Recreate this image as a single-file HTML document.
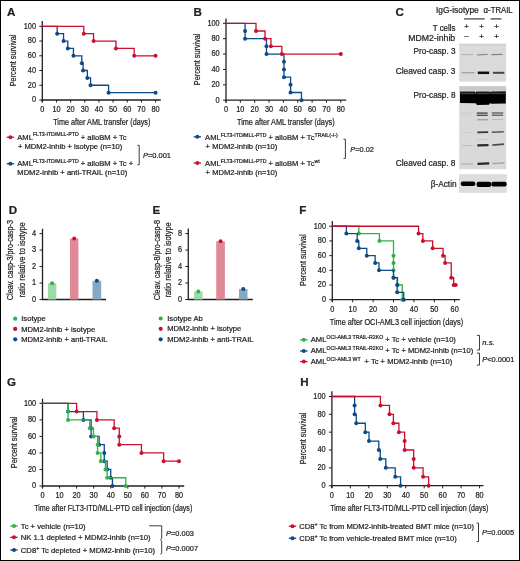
<!DOCTYPE html><html><head><meta charset="utf-8"><style>html,body{margin:0;padding:0;background:#fff;width:520px;height:561px;overflow:hidden;}svg{display:block;will-change:transform;}text{font-family:"Liberation Sans",sans-serif;fill:#231f20;stroke:#231f20;stroke-width:0.24px;}</style></head><body>
<svg width="520" height="561" viewBox="0 0 520 561">
<rect x="0" y="0" width="520" height="561" fill="#fff"/>
<text x="7" y="15.5" font-size="11.6" font-weight="bold" fill="#000">A</text>
<line x1="42.3" y1="20.9" x2="42.3" y2="102.2" stroke="#231f20" stroke-width="1.3"/>
<line x1="41.7" y1="100" x2="160.8" y2="100" stroke="#231f20" stroke-width="1.3"/>
<line x1="39.3" y1="100" x2="42.3" y2="100" stroke="#231f20" stroke-width="1"/>
<text x="36" y="102.35" font-size="8.6" text-anchor="end" textLength="4.09" lengthAdjust="spacingAndGlyphs">0</text>
<line x1="39.3" y1="85.26" x2="42.3" y2="85.26" stroke="#231f20" stroke-width="1"/>
<text x="36" y="87.61" font-size="8.6" text-anchor="end" textLength="8.17" lengthAdjust="spacingAndGlyphs">20</text>
<line x1="39.3" y1="70.52" x2="42.3" y2="70.52" stroke="#231f20" stroke-width="1"/>
<text x="36" y="72.87" font-size="8.6" text-anchor="end" textLength="8.17" lengthAdjust="spacingAndGlyphs">40</text>
<line x1="39.3" y1="55.78" x2="42.3" y2="55.78" stroke="#231f20" stroke-width="1"/>
<text x="36" y="58.13" font-size="8.6" text-anchor="end" textLength="8.17" lengthAdjust="spacingAndGlyphs">60</text>
<line x1="39.3" y1="41.04" x2="42.3" y2="41.04" stroke="#231f20" stroke-width="1"/>
<text x="36" y="43.39" font-size="8.6" text-anchor="end" textLength="8.17" lengthAdjust="spacingAndGlyphs">80</text>
<line x1="39.3" y1="26.3" x2="42.3" y2="26.3" stroke="#231f20" stroke-width="1"/>
<text x="36" y="28.65" font-size="8.6" text-anchor="end" textLength="12.26" lengthAdjust="spacingAndGlyphs">100</text>
<line x1="42.3" y1="100" x2="42.3" y2="102.6" stroke="#231f20" stroke-width="1"/>
<text x="42.3" y="111.9" font-size="8.6" text-anchor="middle" textLength="4.09" lengthAdjust="spacingAndGlyphs">0</text>
<line x1="56.46" y1="100" x2="56.46" y2="102.6" stroke="#231f20" stroke-width="1"/>
<text x="56.46" y="111.9" font-size="8.6" text-anchor="middle" textLength="8.17" lengthAdjust="spacingAndGlyphs">10</text>
<line x1="70.62" y1="100" x2="70.62" y2="102.6" stroke="#231f20" stroke-width="1"/>
<text x="70.62" y="111.9" font-size="8.6" text-anchor="middle" textLength="8.17" lengthAdjust="spacingAndGlyphs">20</text>
<line x1="84.78" y1="100" x2="84.78" y2="102.6" stroke="#231f20" stroke-width="1"/>
<text x="84.78" y="111.9" font-size="8.6" text-anchor="middle" textLength="8.17" lengthAdjust="spacingAndGlyphs">30</text>
<line x1="98.94" y1="100" x2="98.94" y2="102.6" stroke="#231f20" stroke-width="1"/>
<text x="98.94" y="111.9" font-size="8.6" text-anchor="middle" textLength="8.17" lengthAdjust="spacingAndGlyphs">40</text>
<line x1="113.1" y1="100" x2="113.1" y2="102.6" stroke="#231f20" stroke-width="1"/>
<text x="113.1" y="111.9" font-size="8.6" text-anchor="middle" textLength="8.17" lengthAdjust="spacingAndGlyphs">50</text>
<line x1="127.26" y1="100" x2="127.26" y2="102.6" stroke="#231f20" stroke-width="1"/>
<text x="127.26" y="111.9" font-size="8.6" text-anchor="middle" textLength="8.17" lengthAdjust="spacingAndGlyphs">60</text>
<line x1="141.42" y1="100" x2="141.42" y2="102.6" stroke="#231f20" stroke-width="1"/>
<text x="141.42" y="111.9" font-size="8.6" text-anchor="middle" textLength="8.17" lengthAdjust="spacingAndGlyphs">70</text>
<line x1="155.58" y1="100" x2="155.58" y2="102.6" stroke="#231f20" stroke-width="1"/>
<text x="155.58" y="111.9" font-size="8.6" text-anchor="middle" textLength="8.17" lengthAdjust="spacingAndGlyphs">80</text>
<text x="16.4" y="60.45" font-size="8.4" text-anchor="middle" textLength="51.6" lengthAdjust="spacingAndGlyphs" transform="rotate(-90 16.4 60.45)">Percent survival</text>
<path d="M42.3 26.3 H57.17 V33.67 H63.54 V41.04 H67.79 V48.41 H73.45 V55.78 H81.81 V63.15 H83.08 V70.52 H87.33 V77.89 H90.59 V85.26 H108.57 V92.63 H155.58" fill="none" stroke="#0b4a86" stroke-width="1.3"/>
<circle cx="57.17" cy="33.67" r="2" fill="#0b4a86"/>
<circle cx="63.54" cy="41.04" r="2" fill="#0b4a86"/>
<circle cx="67.79" cy="48.41" r="2" fill="#0b4a86"/>
<circle cx="73.45" cy="55.78" r="2" fill="#0b4a86"/>
<circle cx="81.81" cy="63.15" r="2" fill="#0b4a86"/>
<circle cx="83.08" cy="70.52" r="2" fill="#0b4a86"/>
<circle cx="87.33" cy="77.89" r="2" fill="#0b4a86"/>
<circle cx="90.59" cy="85.26" r="2" fill="#0b4a86"/>
<circle cx="108.57" cy="92.63" r="2" fill="#0b4a86"/>
<circle cx="155.58" cy="92.63" r="2" fill="#0b4a86"/>
<path d="M42.3 26.3 H83.79 V33.67 H93.56 V41.04 H115.93 V48.41 H134.2 V55.78 H155.58" fill="none" stroke="#c8102e" stroke-width="1.3"/>
<circle cx="83.79" cy="33.67" r="2" fill="#c8102e"/>
<circle cx="93.56" cy="41.04" r="2" fill="#c8102e"/>
<circle cx="115.93" cy="48.41" r="2" fill="#c8102e"/>
<circle cx="134.2" cy="55.78" r="2" fill="#c8102e"/>
<circle cx="155.58" cy="55.78" r="2" fill="#c8102e"/>
<text x="53.2" y="124.6" font-size="9.2" textLength="97.2" lengthAdjust="spacingAndGlyphs">Time after AML transfer (days)</text>
<line x1="6.7" y1="137.2" x2="14.1" y2="137.2" stroke="#c8102e" stroke-width="1.3"/>
<circle cx="10.4" cy="137.2" r="2" fill="#c8102e"/>
<text transform="translate(17.3 139.7) scale(0.95 1)" font-size="8"><tspan>AML</tspan><tspan font-size="5.5" dy="-3.3">FLT3-ITD/MLL-PTD</tspan><tspan dy="3.3"> + alloBM + Tc</tspan></text>
<text transform="translate(17.9 148.9) scale(0.95 1)" font-size="8"><tspan>+ MDM2-inhib + isotype (n=10)</tspan></text>
<line x1="6.7" y1="163.7" x2="14.1" y2="163.7" stroke="#0b4a86" stroke-width="1.3"/>
<circle cx="10.4" cy="163.7" r="2" fill="#0b4a86"/>
<text transform="translate(17.3 166) scale(0.95 1)" font-size="8"><tspan>AML</tspan><tspan font-size="5.5" dy="-3.3">FLT3-ITD/MLL-PTD</tspan><tspan dy="3.3"> + alloBM + Tc +</tspan></text>
<text transform="translate(17.3 175.2) scale(0.95 1)" font-size="8"><tspan>MDM2-inhib + anti-TRAIL (n=10)</tspan></text>
<path d="M137.4 145.3 H139.2 V164.7 H137.4" fill="none" stroke="#333" stroke-width="0.95"/>
<text transform="translate(143 157.6) scale(0.93 1)" font-size="8"><tspan font-style="italic">P</tspan><tspan>=0.001</tspan></text>
<text x="193.55" y="15.5" font-size="11.6" font-weight="bold" fill="#000">B</text>
<line x1="226" y1="18.5" x2="226" y2="102.4" stroke="#231f20" stroke-width="1.3"/>
<line x1="225.4" y1="100.2" x2="346.2" y2="100.2" stroke="#231f20" stroke-width="1.3"/>
<line x1="223" y1="100.2" x2="226" y2="100.2" stroke="#231f20" stroke-width="1"/>
<text x="219.7" y="102.55" font-size="8.6" text-anchor="end" textLength="4.09" lengthAdjust="spacingAndGlyphs">0</text>
<line x1="223" y1="84.82" x2="226" y2="84.82" stroke="#231f20" stroke-width="1"/>
<text x="219.7" y="87.17" font-size="8.6" text-anchor="end" textLength="8.17" lengthAdjust="spacingAndGlyphs">20</text>
<line x1="223" y1="69.44" x2="226" y2="69.44" stroke="#231f20" stroke-width="1"/>
<text x="219.7" y="71.79" font-size="8.6" text-anchor="end" textLength="8.17" lengthAdjust="spacingAndGlyphs">40</text>
<line x1="223" y1="54.06" x2="226" y2="54.06" stroke="#231f20" stroke-width="1"/>
<text x="219.7" y="56.41" font-size="8.6" text-anchor="end" textLength="8.17" lengthAdjust="spacingAndGlyphs">60</text>
<line x1="223" y1="38.68" x2="226" y2="38.68" stroke="#231f20" stroke-width="1"/>
<text x="219.7" y="41.03" font-size="8.6" text-anchor="end" textLength="8.17" lengthAdjust="spacingAndGlyphs">80</text>
<line x1="223" y1="23.3" x2="226" y2="23.3" stroke="#231f20" stroke-width="1"/>
<text x="219.7" y="25.65" font-size="8.6" text-anchor="end" textLength="12.26" lengthAdjust="spacingAndGlyphs">100</text>
<line x1="226" y1="100.2" x2="226" y2="102.8" stroke="#231f20" stroke-width="1"/>
<text x="226" y="112.1" font-size="8.6" text-anchor="middle" textLength="4.09" lengthAdjust="spacingAndGlyphs">0</text>
<line x1="240.35" y1="100.2" x2="240.35" y2="102.8" stroke="#231f20" stroke-width="1"/>
<text x="240.35" y="112.1" font-size="8.6" text-anchor="middle" textLength="8.17" lengthAdjust="spacingAndGlyphs">10</text>
<line x1="254.7" y1="100.2" x2="254.7" y2="102.8" stroke="#231f20" stroke-width="1"/>
<text x="254.7" y="112.1" font-size="8.6" text-anchor="middle" textLength="8.17" lengthAdjust="spacingAndGlyphs">20</text>
<line x1="269.05" y1="100.2" x2="269.05" y2="102.8" stroke="#231f20" stroke-width="1"/>
<text x="269.05" y="112.1" font-size="8.6" text-anchor="middle" textLength="8.17" lengthAdjust="spacingAndGlyphs">30</text>
<line x1="283.4" y1="100.2" x2="283.4" y2="102.8" stroke="#231f20" stroke-width="1"/>
<text x="283.4" y="112.1" font-size="8.6" text-anchor="middle" textLength="8.17" lengthAdjust="spacingAndGlyphs">40</text>
<line x1="297.75" y1="100.2" x2="297.75" y2="102.8" stroke="#231f20" stroke-width="1"/>
<text x="297.75" y="112.1" font-size="8.6" text-anchor="middle" textLength="8.17" lengthAdjust="spacingAndGlyphs">50</text>
<line x1="312.1" y1="100.2" x2="312.1" y2="102.8" stroke="#231f20" stroke-width="1"/>
<text x="312.1" y="112.1" font-size="8.6" text-anchor="middle" textLength="8.17" lengthAdjust="spacingAndGlyphs">60</text>
<line x1="326.45" y1="100.2" x2="326.45" y2="102.8" stroke="#231f20" stroke-width="1"/>
<text x="326.45" y="112.1" font-size="8.6" text-anchor="middle" textLength="8.17" lengthAdjust="spacingAndGlyphs">70</text>
<line x1="340.8" y1="100.2" x2="340.8" y2="102.8" stroke="#231f20" stroke-width="1"/>
<text x="340.8" y="112.1" font-size="8.6" text-anchor="middle" textLength="8.17" lengthAdjust="spacingAndGlyphs">80</text>
<text x="200.1" y="59.35" font-size="8.4" text-anchor="middle" textLength="51.6" lengthAdjust="spacingAndGlyphs" transform="rotate(-90 200.1 59.35)">Percent survival</text>
<path d="M226 23.3 H245.09 V30.99 V38.68 H266.47 V46.37 V54.06 H283.97 V61.75 V69.44 V77.13 H290.57 V84.82 V92.51 H301.48 V100.2" fill="none" stroke="#0b4a86" stroke-width="1.3"/>
<circle cx="245.09" cy="30.99" r="2" fill="#0b4a86"/>
<circle cx="245.09" cy="38.68" r="2" fill="#0b4a86"/>
<circle cx="266.47" cy="46.37" r="2" fill="#0b4a86"/>
<circle cx="266.47" cy="54.06" r="2" fill="#0b4a86"/>
<circle cx="283.97" cy="61.75" r="2" fill="#0b4a86"/>
<circle cx="283.97" cy="69.44" r="2" fill="#0b4a86"/>
<circle cx="283.97" cy="77.13" r="2" fill="#0b4a86"/>
<circle cx="290.57" cy="84.82" r="2" fill="#0b4a86"/>
<circle cx="290.57" cy="92.51" r="2" fill="#0b4a86"/>
<circle cx="301.48" cy="100.2" r="2" fill="#0b4a86"/>
<path d="M226 23.3 H255.99 V30.99 H265.03 V38.68 H270.92 V46.37 H281.82 V54.06 H340.8" fill="none" stroke="#c8102e" stroke-width="1.3"/>
<circle cx="255.99" cy="30.99" r="2" fill="#c8102e"/>
<circle cx="265.03" cy="38.68" r="2" fill="#c8102e"/>
<circle cx="270.92" cy="46.37" r="2" fill="#c8102e"/>
<circle cx="281.82" cy="54.06" r="2" fill="#c8102e"/>
<circle cx="340.8" cy="54.06" r="2" fill="#c8102e"/>
<text x="237" y="124.6" font-size="9.2" textLength="97.6" lengthAdjust="spacingAndGlyphs">Time after AML transfer (days)</text>
<line x1="193.7" y1="136.8" x2="201.1" y2="136.8" stroke="#0b4a86" stroke-width="1.3"/>
<circle cx="197.4" cy="136.8" r="2" fill="#0b4a86"/>
<text transform="translate(205.1 139.9) scale(0.95 1)" font-size="8"><tspan>AML</tspan><tspan font-size="5.5" dy="-3.3">FLT3-ITD/MLL-PTD</tspan><tspan dy="3.3"> + alloBM + Tc</tspan><tspan font-size="5.5" dy="-3.3">TRAIL(-/-)</tspan></text>
<text transform="translate(205.6 148.6) scale(0.95 1)" font-size="8"><tspan>+ MDM2-inhib (n=10)</tspan></text>
<line x1="193.7" y1="163" x2="201.1" y2="163" stroke="#c8102e" stroke-width="1.3"/>
<circle cx="197.4" cy="163" r="2" fill="#c8102e"/>
<text transform="translate(205.1 166.2) scale(0.95 1)" font-size="8"><tspan>AML</tspan><tspan font-size="5.5" dy="-3.3">FLT3-ITD/MLL-PTD</tspan><tspan dy="3.3"> + alloBM + Tc</tspan><tspan font-size="5.5" dy="-3.3">wt</tspan></text>
<text transform="translate(205.6 175) scale(0.95 1)" font-size="8"><tspan>+ MDM2-inhib (n=10)</tspan></text>
<path d="M343.5 139.3 H345.4 V158.4 H343.5" fill="none" stroke="#333" stroke-width="0.95"/>
<text transform="translate(350.2 151.5) scale(0.93 1)" font-size="8"><tspan font-style="italic">P</tspan><tspan>=0.02</tspan></text>
<text x="395.5" y="15.8" font-size="11.6" font-weight="bold" fill="#000">C</text>
<text x="436" y="13" font-size="8.6" textLength="42.7" lengthAdjust="spacingAndGlyphs">IgG-isotype</text>
<text x="483.6" y="12.6" font-size="8.2" textLength="29" lengthAdjust="spacingAndGlyphs">α-TRAIL</text>
<line x1="464.1" y1="18.9" x2="484.7" y2="18.9" stroke="#3a3a3a" stroke-width="1.2"/>
<line x1="490.6" y1="18.9" x2="501.5" y2="18.9" stroke="#3a3a3a" stroke-width="1.2"/>
<text x="455.4" y="30.6" font-size="8.4" text-anchor="end" textLength="22.6" lengthAdjust="spacingAndGlyphs">T cells</text>
<text x="455.2" y="41.1" font-size="8.6" text-anchor="end" textLength="47" lengthAdjust="spacingAndGlyphs">MDM2-inhib</text>
<text x="466.6" y="28.9" font-size="8" text-anchor="middle">+</text>
<text x="481.6" y="28.9" font-size="8" text-anchor="middle">+</text>
<text x="496.7" y="28.9" font-size="8" text-anchor="middle">+</text>
<text x="466.6" y="38.2" font-size="8" text-anchor="middle">–</text>
<text x="481.6" y="38.5" font-size="8" text-anchor="middle">+</text>
<text x="496.7" y="38.5" font-size="8" text-anchor="middle">+</text>
<text x="455.5" y="53.6" font-size="8.8" text-anchor="end" textLength="41.9" lengthAdjust="spacingAndGlyphs">Pro-casp. 3</text>
<text x="455.5" y="73.5" font-size="8.8" text-anchor="end" textLength="59.8" lengthAdjust="spacingAndGlyphs">Cleaved casp. 3</text>
<text x="455.5" y="98.4" font-size="8.8" text-anchor="end" textLength="41.9" lengthAdjust="spacingAndGlyphs">Pro-casp. 8</text>
<text x="455.5" y="165.9" font-size="8.8" text-anchor="end" textLength="59.8" lengthAdjust="spacingAndGlyphs">Cleaved casp. 8</text>
<text x="456.6" y="187.4" font-size="8.8" text-anchor="end" textLength="25.9" lengthAdjust="spacingAndGlyphs">β-Actin</text>
<text x="8.8" y="214.1" font-size="11.6" font-weight="bold" fill="#000">D</text>
<line x1="42.5" y1="228.7" x2="42.5" y2="300.1" stroke="#231f20" stroke-width="1.3"/>
<line x1="41.9" y1="299.5" x2="106" y2="299.5" stroke="#231f20" stroke-width="1.3"/>
<line x1="39.5" y1="299.5" x2="42.5" y2="299.5" stroke="#231f20" stroke-width="1"/>
<text x="36.2" y="301.85" font-size="8.6" text-anchor="end" textLength="4.09" lengthAdjust="spacingAndGlyphs">0</text>
<line x1="39.5" y1="283.02" x2="42.5" y2="283.02" stroke="#231f20" stroke-width="1"/>
<text x="36.2" y="285.37" font-size="8.6" text-anchor="end" textLength="4.09" lengthAdjust="spacingAndGlyphs">1</text>
<line x1="39.5" y1="266.54" x2="42.5" y2="266.54" stroke="#231f20" stroke-width="1"/>
<text x="36.2" y="268.89" font-size="8.6" text-anchor="end" textLength="4.09" lengthAdjust="spacingAndGlyphs">2</text>
<line x1="39.5" y1="250.06" x2="42.5" y2="250.06" stroke="#231f20" stroke-width="1"/>
<text x="36.2" y="252.41" font-size="8.6" text-anchor="end" textLength="4.09" lengthAdjust="spacingAndGlyphs">3</text>
<line x1="39.5" y1="233.58" x2="42.5" y2="233.58" stroke="#231f20" stroke-width="1"/>
<text x="36.2" y="235.93" font-size="8.6" text-anchor="end" textLength="4.09" lengthAdjust="spacingAndGlyphs">4</text>
<rect x="47.9" y="283.3" width="8.4" height="16.2" fill="#9cdaa6"/>
<circle cx="52.1" cy="283.3" r="2" fill="#2fb145"/>
<rect x="70" y="238.4" width="8.4" height="61.1" fill="#e08a98"/>
<circle cx="74.2" cy="238.4" r="2" fill="#c8102e"/>
<rect x="92.5" y="280.8" width="8.7" height="18.7" fill="#88a8c2"/>
<circle cx="96.85" cy="280.8" r="2" fill="#0b4a86"/>
<text x="13.3" y="260.1" font-size="8.8" text-anchor="middle" textLength="80.2" lengthAdjust="spacingAndGlyphs" transform="rotate(-90 13.3 260.1)">Cleav. casp-3/pro-casp-3</text>
<text x="24.6" y="259.85" font-size="8.8" text-anchor="middle" textLength="75.3" lengthAdjust="spacingAndGlyphs" transform="rotate(-90 24.6 259.85)">ratio relative to isotype</text>
<circle cx="15.2" cy="318.7" r="2.1" fill="#2fb145"/>
<text transform="translate(21.2 321.3) scale(0.955 1)" font-size="8"><tspan>Isotype</tspan></text>
<circle cx="15.2" cy="328.9" r="2.1" fill="#c8102e"/>
<text transform="translate(21.2 331.5) scale(0.955 1)" font-size="8"><tspan>MDM2-inhib + isotype</tspan></text>
<circle cx="15.2" cy="339.3" r="2.1" fill="#0b4a86"/>
<text transform="translate(21.2 341.9) scale(0.955 1)" font-size="8"><tspan>MDM2-inhib + anti-TRAIL</tspan></text>
<text x="152.5" y="214.2" font-size="11.6" font-weight="bold" fill="#000">E</text>
<line x1="188.3" y1="228.6" x2="188.3" y2="300.1" stroke="#231f20" stroke-width="1.3"/>
<line x1="187.7" y1="299.5" x2="252.8" y2="299.5" stroke="#231f20" stroke-width="1.3"/>
<line x1="185.3" y1="299.5" x2="188.3" y2="299.5" stroke="#231f20" stroke-width="1"/>
<text x="182" y="301.85" font-size="8.6" text-anchor="end" textLength="4.09" lengthAdjust="spacingAndGlyphs">0</text>
<line x1="185.3" y1="283.02" x2="188.3" y2="283.02" stroke="#231f20" stroke-width="1"/>
<text x="182" y="285.37" font-size="8.6" text-anchor="end" textLength="4.09" lengthAdjust="spacingAndGlyphs">2</text>
<line x1="185.3" y1="266.54" x2="188.3" y2="266.54" stroke="#231f20" stroke-width="1"/>
<text x="182" y="268.89" font-size="8.6" text-anchor="end" textLength="4.09" lengthAdjust="spacingAndGlyphs">4</text>
<line x1="185.3" y1="250.06" x2="188.3" y2="250.06" stroke="#231f20" stroke-width="1"/>
<text x="182" y="252.41" font-size="8.6" text-anchor="end" textLength="4.09" lengthAdjust="spacingAndGlyphs">6</text>
<line x1="185.3" y1="233.58" x2="188.3" y2="233.58" stroke="#231f20" stroke-width="1"/>
<text x="182" y="235.93" font-size="8.6" text-anchor="end" textLength="4.09" lengthAdjust="spacingAndGlyphs">8</text>
<rect x="194" y="291.6" width="8.5" height="7.9" fill="#9cdaa6"/>
<circle cx="198.25" cy="291.6" r="2" fill="#2fb145"/>
<rect x="216.2" y="241.3" width="8.7" height="58.2" fill="#e08a98"/>
<circle cx="220.55" cy="241.3" r="2" fill="#c8102e"/>
<rect x="239" y="289" width="8.5" height="10.5" fill="#88a8c2"/>
<circle cx="243.25" cy="289" r="2" fill="#0b4a86"/>
<text x="159.8" y="260.1" font-size="8.8" text-anchor="middle" textLength="80.2" lengthAdjust="spacingAndGlyphs" transform="rotate(-90 159.8 260.1)">Cleav. casp-8/pro-casp-8</text>
<text x="171.2" y="259.85" font-size="8.8" text-anchor="middle" textLength="75.3" lengthAdjust="spacingAndGlyphs" transform="rotate(-90 171.2 259.85)">ratio relative to isotype</text>
<circle cx="160.7" cy="318.5" r="2.1" fill="#2fb145"/>
<text transform="translate(167.2 321.1) scale(0.955 1)" font-size="8"><tspan>Isotype Ab</tspan></text>
<circle cx="160.7" cy="328.8" r="2.1" fill="#c8102e"/>
<text transform="translate(167.2 331.4) scale(0.955 1)" font-size="8"><tspan>MDM2-inhib + isotype</tspan></text>
<circle cx="160.7" cy="339.3" r="2.1" fill="#0b4a86"/>
<text transform="translate(167.2 341.9) scale(0.955 1)" font-size="8"><tspan>MDM2-inhib + anti-TRAIL</tspan></text>
<text x="299.3" y="214.25" font-size="11.6" font-weight="bold" fill="#000">F</text>
<line x1="332.3" y1="220.9" x2="332.3" y2="301.9" stroke="#231f20" stroke-width="1.3"/>
<line x1="331.7" y1="299.7" x2="459.8" y2="299.7" stroke="#231f20" stroke-width="1.3"/>
<line x1="329.3" y1="299.7" x2="332.3" y2="299.7" stroke="#231f20" stroke-width="1"/>
<text x="326" y="302.05" font-size="8.6" text-anchor="end" textLength="4.09" lengthAdjust="spacingAndGlyphs">0</text>
<line x1="329.3" y1="285.01" x2="332.3" y2="285.01" stroke="#231f20" stroke-width="1"/>
<text x="326" y="287.36" font-size="8.6" text-anchor="end" textLength="8.17" lengthAdjust="spacingAndGlyphs">20</text>
<line x1="329.3" y1="270.32" x2="332.3" y2="270.32" stroke="#231f20" stroke-width="1"/>
<text x="326" y="272.67" font-size="8.6" text-anchor="end" textLength="8.17" lengthAdjust="spacingAndGlyphs">40</text>
<line x1="329.3" y1="255.63" x2="332.3" y2="255.63" stroke="#231f20" stroke-width="1"/>
<text x="326" y="257.98" font-size="8.6" text-anchor="end" textLength="8.17" lengthAdjust="spacingAndGlyphs">60</text>
<line x1="329.3" y1="240.94" x2="332.3" y2="240.94" stroke="#231f20" stroke-width="1"/>
<text x="326" y="243.29" font-size="8.6" text-anchor="end" textLength="8.17" lengthAdjust="spacingAndGlyphs">80</text>
<line x1="329.3" y1="226.25" x2="332.3" y2="226.25" stroke="#231f20" stroke-width="1"/>
<text x="326" y="228.6" font-size="8.6" text-anchor="end" textLength="12.26" lengthAdjust="spacingAndGlyphs">100</text>
<line x1="332.3" y1="299.7" x2="332.3" y2="302.3" stroke="#231f20" stroke-width="1"/>
<text x="332.3" y="311.6" font-size="8.6" text-anchor="middle" textLength="4.09" lengthAdjust="spacingAndGlyphs">0</text>
<line x1="352.7" y1="299.7" x2="352.7" y2="302.3" stroke="#231f20" stroke-width="1"/>
<text x="352.7" y="311.6" font-size="8.6" text-anchor="middle" textLength="8.17" lengthAdjust="spacingAndGlyphs">10</text>
<line x1="373.1" y1="299.7" x2="373.1" y2="302.3" stroke="#231f20" stroke-width="1"/>
<text x="373.1" y="311.6" font-size="8.6" text-anchor="middle" textLength="8.17" lengthAdjust="spacingAndGlyphs">20</text>
<line x1="393.5" y1="299.7" x2="393.5" y2="302.3" stroke="#231f20" stroke-width="1"/>
<text x="393.5" y="311.6" font-size="8.6" text-anchor="middle" textLength="8.17" lengthAdjust="spacingAndGlyphs">30</text>
<line x1="413.9" y1="299.7" x2="413.9" y2="302.3" stroke="#231f20" stroke-width="1"/>
<text x="413.9" y="311.6" font-size="8.6" text-anchor="middle" textLength="8.17" lengthAdjust="spacingAndGlyphs">40</text>
<line x1="434.3" y1="299.7" x2="434.3" y2="302.3" stroke="#231f20" stroke-width="1"/>
<text x="434.3" y="311.6" font-size="8.6" text-anchor="middle" textLength="8.17" lengthAdjust="spacingAndGlyphs">50</text>
<line x1="454.7" y1="299.7" x2="454.7" y2="302.3" stroke="#231f20" stroke-width="1"/>
<text x="454.7" y="311.6" font-size="8.6" text-anchor="middle" textLength="8.17" lengthAdjust="spacingAndGlyphs">60</text>
<text x="306.4" y="260.3" font-size="8.4" text-anchor="middle" textLength="51.6" lengthAdjust="spacingAndGlyphs" transform="rotate(-90 306.4 260.3)">Percent survival</text>
<path d="M332.3 226.25 H358.82 V233.59 H379.42 V240.94 H393.5 V255.63 V262.97 V270.32 V277.66 H397.58 V285.01 H402.27 V299.7" fill="none" stroke="#2fb145" stroke-width="1.3"/>
<circle cx="358.82" cy="233.59" r="2" fill="#2fb145"/>
<circle cx="379.42" cy="240.94" r="2" fill="#2fb145"/>
<circle cx="393.5" cy="255.63" r="2" fill="#2fb145"/>
<circle cx="393.5" cy="262.97" r="2" fill="#2fb145"/>
<circle cx="393.5" cy="270.32" r="2" fill="#2fb145"/>
<circle cx="393.5" cy="277.66" r="2" fill="#2fb145"/>
<circle cx="397.58" cy="285.01" r="2" fill="#2fb145"/>
<circle cx="402.27" cy="299.7" r="2" fill="#2fb145"/>
<path d="M332.3 226.25 H346.38 V233.59 H357.19 V240.94 H358.82 V248.28 H366.78 V255.63 H375.14 V262.97 H379.02 V270.32 H393.5 V277.66 H397.17 V285.01 V292.35 H403.7 V299.7" fill="none" stroke="#0b4a86" stroke-width="1.3"/>
<circle cx="346.38" cy="233.59" r="2" fill="#0b4a86"/>
<circle cx="357.19" cy="240.94" r="2" fill="#0b4a86"/>
<circle cx="358.82" cy="248.28" r="2" fill="#0b4a86"/>
<circle cx="366.78" cy="255.63" r="2" fill="#0b4a86"/>
<circle cx="375.14" cy="262.97" r="2" fill="#0b4a86"/>
<circle cx="379.02" cy="270.32" r="2" fill="#0b4a86"/>
<circle cx="393.5" cy="277.66" r="2" fill="#0b4a86"/>
<circle cx="397.17" cy="285.01" r="2" fill="#0b4a86"/>
<circle cx="397.17" cy="292.35" r="2" fill="#0b4a86"/>
<circle cx="403.7" cy="299.7" r="2" fill="#0b4a86"/>
<path d="M332.3 226.25 H418.59 V233.59 H422.88 V240.94 H432.67 V248.28 H443.07 V255.63 H445.11 V262.97 H451.23 V277.66 H453.68 V285.01 H455.72" fill="none" stroke="#c8102e" stroke-width="1.3"/>
<circle cx="418.59" cy="233.59" r="2" fill="#c8102e"/>
<circle cx="422.88" cy="240.94" r="2" fill="#c8102e"/>
<circle cx="432.67" cy="248.28" r="2" fill="#c8102e"/>
<circle cx="443.07" cy="255.63" r="2" fill="#c8102e"/>
<circle cx="445.11" cy="262.97" r="2" fill="#c8102e"/>
<circle cx="451.23" cy="277.66" r="2" fill="#c8102e"/>
<circle cx="453.68" cy="285.01" r="2" fill="#c8102e"/>
<circle cx="455.72" cy="285.01" r="2" fill="#c8102e"/>
<text x="329.8" y="324.8" font-size="9.2" textLength="133.3" lengthAdjust="spacingAndGlyphs">Time after OCI-AML3 cell injection (days)</text>
<line x1="300.1" y1="339.8" x2="307.5" y2="339.8" stroke="#2fb145" stroke-width="1.3"/>
<circle cx="303.8" cy="339.8" r="2" fill="#2fb145"/>
<text transform="translate(310.8 342.4) scale(0.95 1)" font-size="8"><tspan>AML</tspan><tspan font-size="5.5" dy="-3.3">OCI-AML3 TRAIL-R2KO</tspan><tspan dy="3.3"> + Tc + vehicle (n=10)</tspan></text>
<line x1="300.1" y1="351" x2="307.5" y2="351" stroke="#0b4a86" stroke-width="1.3"/>
<circle cx="303.8" cy="351" r="2" fill="#0b4a86"/>
<text transform="translate(310.8 353.4) scale(0.95 1)" font-size="8"><tspan>AML</tspan><tspan font-size="5.5" dy="-3.3">OCI-AML3 TRAIL-R2KO</tspan><tspan dy="3.3"> + Tc + MDM2-inhib (n=10)</tspan></text>
<line x1="300.1" y1="361.6" x2="307.5" y2="361.6" stroke="#c8102e" stroke-width="1.3"/>
<circle cx="303.8" cy="361.6" r="2" fill="#c8102e"/>
<text transform="translate(310.8 363.8) scale(0.95 1)" font-size="8"><tspan>AML</tspan><tspan font-size="5.5" dy="-3.3">OCI-AML3 WT</tspan><tspan dy="3.3" dx="1.8"> + Tc + MDM2-inhib (n=10)</tspan></text>
<path d="M476.9 335.4 H479.5 V350 H476.9" fill="none" stroke="#333" stroke-width="0.95"/>
<path d="M476.9 353.1 H479.5 V365.1 H476.9" fill="none" stroke="#333" stroke-width="0.95"/>
<text transform="translate(482.3 345.1) scale(0.95 1)" font-size="8"><tspan font-style="italic">n.s.</tspan></text>
<text transform="translate(482.3 361.7) scale(0.93 1)" font-size="8"><tspan font-style="italic">P</tspan><tspan>&lt;0.0001</tspan></text>
<text x="7.1" y="385.5" font-size="11.6" font-weight="bold" fill="#000">G</text>
<line x1="42.5" y1="398.7" x2="42.5" y2="488.2" stroke="#231f20" stroke-width="1.3"/>
<line x1="41.9" y1="486" x2="184.2" y2="486" stroke="#231f20" stroke-width="1.3"/>
<line x1="39.5" y1="486" x2="42.5" y2="486" stroke="#231f20" stroke-width="1"/>
<text x="36.2" y="488.35" font-size="8.6" text-anchor="end" textLength="4.09" lengthAdjust="spacingAndGlyphs">0</text>
<line x1="39.5" y1="469.47" x2="42.5" y2="469.47" stroke="#231f20" stroke-width="1"/>
<text x="36.2" y="471.82" font-size="8.6" text-anchor="end" textLength="8.17" lengthAdjust="spacingAndGlyphs">20</text>
<line x1="39.5" y1="452.94" x2="42.5" y2="452.94" stroke="#231f20" stroke-width="1"/>
<text x="36.2" y="455.29" font-size="8.6" text-anchor="end" textLength="8.17" lengthAdjust="spacingAndGlyphs">40</text>
<line x1="39.5" y1="436.41" x2="42.5" y2="436.41" stroke="#231f20" stroke-width="1"/>
<text x="36.2" y="438.76" font-size="8.6" text-anchor="end" textLength="8.17" lengthAdjust="spacingAndGlyphs">60</text>
<line x1="39.5" y1="419.88" x2="42.5" y2="419.88" stroke="#231f20" stroke-width="1"/>
<text x="36.2" y="422.23" font-size="8.6" text-anchor="end" textLength="8.17" lengthAdjust="spacingAndGlyphs">80</text>
<line x1="39.5" y1="403.35" x2="42.5" y2="403.35" stroke="#231f20" stroke-width="1"/>
<text x="36.2" y="405.7" font-size="8.6" text-anchor="end" textLength="12.26" lengthAdjust="spacingAndGlyphs">100</text>
<line x1="42.5" y1="486" x2="42.5" y2="488.6" stroke="#231f20" stroke-width="1"/>
<text x="42.5" y="497.9" font-size="8.6" text-anchor="middle" textLength="4.09" lengthAdjust="spacingAndGlyphs">0</text>
<line x1="59.56" y1="486" x2="59.56" y2="488.6" stroke="#231f20" stroke-width="1"/>
<text x="59.56" y="497.9" font-size="8.6" text-anchor="middle" textLength="8.17" lengthAdjust="spacingAndGlyphs">10</text>
<line x1="76.62" y1="486" x2="76.62" y2="488.6" stroke="#231f20" stroke-width="1"/>
<text x="76.62" y="497.9" font-size="8.6" text-anchor="middle" textLength="8.17" lengthAdjust="spacingAndGlyphs">20</text>
<line x1="93.68" y1="486" x2="93.68" y2="488.6" stroke="#231f20" stroke-width="1"/>
<text x="93.68" y="497.9" font-size="8.6" text-anchor="middle" textLength="8.17" lengthAdjust="spacingAndGlyphs">30</text>
<line x1="110.74" y1="486" x2="110.74" y2="488.6" stroke="#231f20" stroke-width="1"/>
<text x="110.74" y="497.9" font-size="8.6" text-anchor="middle" textLength="8.17" lengthAdjust="spacingAndGlyphs">40</text>
<line x1="127.8" y1="486" x2="127.8" y2="488.6" stroke="#231f20" stroke-width="1"/>
<text x="127.8" y="497.9" font-size="8.6" text-anchor="middle" textLength="8.17" lengthAdjust="spacingAndGlyphs">50</text>
<line x1="144.86" y1="486" x2="144.86" y2="488.6" stroke="#231f20" stroke-width="1"/>
<text x="144.86" y="497.9" font-size="8.6" text-anchor="middle" textLength="8.17" lengthAdjust="spacingAndGlyphs">60</text>
<line x1="161.92" y1="486" x2="161.92" y2="488.6" stroke="#231f20" stroke-width="1"/>
<text x="161.92" y="497.9" font-size="8.6" text-anchor="middle" textLength="8.17" lengthAdjust="spacingAndGlyphs">70</text>
<line x1="178.98" y1="486" x2="178.98" y2="488.6" stroke="#231f20" stroke-width="1"/>
<text x="178.98" y="497.9" font-size="8.6" text-anchor="middle" textLength="8.17" lengthAdjust="spacingAndGlyphs">80</text>
<text x="16.6" y="442.35" font-size="8.4" text-anchor="middle" textLength="51.6" lengthAdjust="spacingAndGlyphs" transform="rotate(-90 16.6 442.35)">Percent survival</text>
<path d="M42.5 403.35 H68.09 V411.62 H83.44 V419.88 H91.12 V428.14 V436.41 H99.14 V444.68 H104.26 V452.94 V461.2 H107.16 V469.47 H110.74 V477.74 H112.45 V486" fill="none" stroke="#0b4a86" stroke-width="1.3"/>
<circle cx="68.09" cy="411.62" r="2" fill="#0b4a86"/>
<circle cx="83.44" cy="419.88" r="2" fill="#0b4a86"/>
<circle cx="91.12" cy="428.14" r="2" fill="#0b4a86"/>
<circle cx="91.12" cy="436.41" r="2" fill="#0b4a86"/>
<circle cx="99.14" cy="444.68" r="2" fill="#0b4a86"/>
<circle cx="104.26" cy="452.94" r="2" fill="#0b4a86"/>
<circle cx="104.26" cy="461.2" r="2" fill="#0b4a86"/>
<circle cx="107.16" cy="469.47" r="2" fill="#0b4a86"/>
<circle cx="110.74" cy="477.74" r="2" fill="#0b4a86"/>
<circle cx="112.45" cy="486" r="2" fill="#0b4a86"/>
<path d="M42.5 403.35 H68.09 V411.62 V419.88 H89.76 V428.14 H93.51 V436.41 H97.6 V444.68 V452.94 H100.85 V461.2 H105.45 V469.47 H107.16 V477.74 H125.75 V486" fill="none" stroke="#2fb145" stroke-width="1.3"/>
<circle cx="68.09" cy="411.62" r="2" fill="#2fb145"/>
<circle cx="68.09" cy="419.88" r="2" fill="#2fb145"/>
<circle cx="89.76" cy="428.14" r="2" fill="#2fb145"/>
<circle cx="93.51" cy="436.41" r="2" fill="#2fb145"/>
<circle cx="97.6" cy="444.68" r="2" fill="#2fb145"/>
<circle cx="97.6" cy="452.94" r="2" fill="#2fb145"/>
<circle cx="100.85" cy="461.2" r="2" fill="#2fb145"/>
<circle cx="105.45" cy="469.47" r="2" fill="#2fb145"/>
<circle cx="107.16" cy="477.74" r="2" fill="#2fb145"/>
<circle cx="125.75" cy="486" r="2" fill="#2fb145"/>
<path d="M42.5 403.35 H76.62 V411.62 H96.92 V419.88 H114.15 V428.14 H119.27 V436.41 V444.68 H141.45 V452.94 H163.63 V461.2 H178.98" fill="none" stroke="#c8102e" stroke-width="1.3"/>
<circle cx="76.62" cy="411.62" r="2" fill="#c8102e"/>
<circle cx="96.92" cy="419.88" r="2" fill="#c8102e"/>
<circle cx="114.15" cy="428.14" r="2" fill="#c8102e"/>
<circle cx="119.27" cy="436.41" r="2" fill="#c8102e"/>
<circle cx="119.27" cy="444.68" r="2" fill="#c8102e"/>
<circle cx="141.45" cy="452.94" r="2" fill="#c8102e"/>
<circle cx="163.63" cy="461.2" r="2" fill="#c8102e"/>
<circle cx="178.98" cy="461.2" r="2" fill="#c8102e"/>
<text x="34.2" y="510.8" font-size="9.2" textLength="158.1" lengthAdjust="spacingAndGlyphs">Time after FLT3-ITD/MLL-PTD cell injection (days)</text>
<line x1="10.3" y1="526" x2="17.7" y2="526" stroke="#2fb145" stroke-width="1.3"/>
<circle cx="14" cy="526" r="2" fill="#2fb145"/>
<text transform="translate(20.8 528.6) scale(0.962 1)" font-size="8"><tspan>Tc + vehicle (n=10)</tspan></text>
<line x1="10.3" y1="537.3" x2="17.7" y2="537.3" stroke="#c8102e" stroke-width="1.3"/>
<circle cx="14" cy="537.3" r="2" fill="#c8102e"/>
<text transform="translate(20.8 540.1) scale(0.962 1)" font-size="8"><tspan>NK 1.1 depleted + MDM2-inhib (n=10)</tspan></text>
<line x1="10.3" y1="550" x2="17.7" y2="550" stroke="#0b4a86" stroke-width="1.3"/>
<circle cx="14" cy="550" r="2" fill="#0b4a86"/>
<text transform="translate(20.8 552.8) scale(0.962 1)" font-size="8"><tspan>CD8</tspan><tspan font-size="5.5" dy="-3.3">+</tspan><tspan dy="3.3"> Tc depleted + MDM2-inhib (n=10)</tspan></text>
<path d="M149.2 525.8 H161.7 V538.6 L160.4 539.7 L161.7 540.8 V553.2 L160.3 554.2" fill="none" stroke="#333" stroke-width="0.95"/>
<text transform="translate(166 536.1) scale(0.93 1)" font-size="8"><tspan font-style="italic">P</tspan><tspan>=0.003</tspan></text>
<text transform="translate(166 551.1) scale(0.93 1)" font-size="8"><tspan font-style="italic">P</tspan><tspan>=0.0007</tspan></text>
<text x="300.2" y="385.5" font-size="11.6" font-weight="bold" fill="#000">H</text>
<line x1="331.9" y1="391.2" x2="331.9" y2="487.9" stroke="#231f20" stroke-width="1.3"/>
<line x1="331.3" y1="485.7" x2="483.5" y2="485.7" stroke="#231f20" stroke-width="1.3"/>
<line x1="328.9" y1="485.7" x2="331.9" y2="485.7" stroke="#231f20" stroke-width="1"/>
<text x="325.6" y="488.05" font-size="8.6" text-anchor="end" textLength="4.09" lengthAdjust="spacingAndGlyphs">0</text>
<line x1="328.9" y1="467.86" x2="331.9" y2="467.86" stroke="#231f20" stroke-width="1"/>
<text x="325.6" y="470.21" font-size="8.6" text-anchor="end" textLength="8.17" lengthAdjust="spacingAndGlyphs">20</text>
<line x1="328.9" y1="450.02" x2="331.9" y2="450.02" stroke="#231f20" stroke-width="1"/>
<text x="325.6" y="452.37" font-size="8.6" text-anchor="end" textLength="8.17" lengthAdjust="spacingAndGlyphs">40</text>
<line x1="328.9" y1="432.18" x2="331.9" y2="432.18" stroke="#231f20" stroke-width="1"/>
<text x="325.6" y="434.53" font-size="8.6" text-anchor="end" textLength="8.17" lengthAdjust="spacingAndGlyphs">60</text>
<line x1="328.9" y1="414.34" x2="331.9" y2="414.34" stroke="#231f20" stroke-width="1"/>
<text x="325.6" y="416.69" font-size="8.6" text-anchor="end" textLength="8.17" lengthAdjust="spacingAndGlyphs">80</text>
<line x1="328.9" y1="396.5" x2="331.9" y2="396.5" stroke="#231f20" stroke-width="1"/>
<text x="325.6" y="398.85" font-size="8.6" text-anchor="end" textLength="12.26" lengthAdjust="spacingAndGlyphs">100</text>
<line x1="331.9" y1="485.7" x2="331.9" y2="488.3" stroke="#231f20" stroke-width="1"/>
<text x="331.9" y="497.6" font-size="8.6" text-anchor="middle" textLength="4.09" lengthAdjust="spacingAndGlyphs">0</text>
<line x1="350.36" y1="485.7" x2="350.36" y2="488.3" stroke="#231f20" stroke-width="1"/>
<text x="350.36" y="497.6" font-size="8.6" text-anchor="middle" textLength="8.17" lengthAdjust="spacingAndGlyphs">10</text>
<line x1="368.82" y1="485.7" x2="368.82" y2="488.3" stroke="#231f20" stroke-width="1"/>
<text x="368.82" y="497.6" font-size="8.6" text-anchor="middle" textLength="8.17" lengthAdjust="spacingAndGlyphs">20</text>
<line x1="387.28" y1="485.7" x2="387.28" y2="488.3" stroke="#231f20" stroke-width="1"/>
<text x="387.28" y="497.6" font-size="8.6" text-anchor="middle" textLength="8.17" lengthAdjust="spacingAndGlyphs">30</text>
<line x1="405.74" y1="485.7" x2="405.74" y2="488.3" stroke="#231f20" stroke-width="1"/>
<text x="405.74" y="497.6" font-size="8.6" text-anchor="middle" textLength="8.17" lengthAdjust="spacingAndGlyphs">40</text>
<line x1="424.2" y1="485.7" x2="424.2" y2="488.3" stroke="#231f20" stroke-width="1"/>
<text x="424.2" y="497.6" font-size="8.6" text-anchor="middle" textLength="8.17" lengthAdjust="spacingAndGlyphs">50</text>
<line x1="442.66" y1="485.7" x2="442.66" y2="488.3" stroke="#231f20" stroke-width="1"/>
<text x="442.66" y="497.6" font-size="8.6" text-anchor="middle" textLength="8.17" lengthAdjust="spacingAndGlyphs">60</text>
<line x1="461.12" y1="485.7" x2="461.12" y2="488.3" stroke="#231f20" stroke-width="1"/>
<text x="461.12" y="497.6" font-size="8.6" text-anchor="middle" textLength="8.17" lengthAdjust="spacingAndGlyphs">70</text>
<line x1="479.58" y1="485.7" x2="479.58" y2="488.3" stroke="#231f20" stroke-width="1"/>
<text x="479.58" y="497.6" font-size="8.6" text-anchor="middle" textLength="8.17" lengthAdjust="spacingAndGlyphs">80</text>
<text x="306" y="438.45" font-size="8.4" text-anchor="middle" textLength="51.6" lengthAdjust="spacingAndGlyphs" transform="rotate(-90 306 438.45)">Percent survival</text>
<path d="M331.9 396.5 H354.61 V405.42 V414.34 H356.27 V423.26 H365.31 V432.18 H369 V441.1 H378.79 V450.02 H380.27 V458.94 H385.8 V467.86 H395.22 V476.78 H400.57 V485.7" fill="none" stroke="#0b4a86" stroke-width="1.3"/>
<circle cx="354.61" cy="405.42" r="2" fill="#0b4a86"/>
<circle cx="354.61" cy="414.34" r="2" fill="#0b4a86"/>
<circle cx="356.27" cy="423.26" r="2" fill="#0b4a86"/>
<circle cx="365.31" cy="432.18" r="2" fill="#0b4a86"/>
<circle cx="369" cy="441.1" r="2" fill="#0b4a86"/>
<circle cx="378.79" cy="450.02" r="2" fill="#0b4a86"/>
<circle cx="380.27" cy="458.94" r="2" fill="#0b4a86"/>
<circle cx="385.8" cy="467.86" r="2" fill="#0b4a86"/>
<circle cx="395.22" cy="476.78" r="2" fill="#0b4a86"/>
<circle cx="400.57" cy="485.7" r="2" fill="#0b4a86"/>
<path d="M331.9 396.5 H380.45 V405.42 H389.5 V414.34 H393.37 V423.26 H398.91 V432.18 H404.63 V441.1 V450.02 H413.68 V458.94 V467.86 H423.09 V476.78 H428.63 V485.7" fill="none" stroke="#c8102e" stroke-width="1.3"/>
<circle cx="380.45" cy="405.42" r="2" fill="#c8102e"/>
<circle cx="389.5" cy="414.34" r="2" fill="#c8102e"/>
<circle cx="393.37" cy="423.26" r="2" fill="#c8102e"/>
<circle cx="398.91" cy="432.18" r="2" fill="#c8102e"/>
<circle cx="404.63" cy="441.1" r="2" fill="#c8102e"/>
<circle cx="404.63" cy="450.02" r="2" fill="#c8102e"/>
<circle cx="413.68" cy="458.94" r="2" fill="#c8102e"/>
<circle cx="413.68" cy="467.86" r="2" fill="#c8102e"/>
<circle cx="423.09" cy="476.78" r="2" fill="#c8102e"/>
<circle cx="428.63" cy="485.7" r="2" fill="#c8102e"/>
<text x="330.2" y="510.7" font-size="9.2" textLength="158.3" lengthAdjust="spacingAndGlyphs">Time after FLT3-ITD/MLL-PTD cell injection (days)</text>
<line x1="288.8" y1="526.2" x2="296.2" y2="526.2" stroke="#c8102e" stroke-width="1.3"/>
<circle cx="292.5" cy="526.2" r="2" fill="#c8102e"/>
<text transform="translate(299.2 529.1) scale(0.95 1)" font-size="8"><tspan>CD8</tspan><tspan font-size="5.5" dy="-3.3">+</tspan><tspan dy="3.3"> Tc from MDM2-inhib-treated BMT mice (n=10)</tspan></text>
<line x1="288.8" y1="538.2" x2="296.2" y2="538.2" stroke="#0b4a86" stroke-width="1.3"/>
<circle cx="292.5" cy="538.2" r="2" fill="#0b4a86"/>
<text transform="translate(299.2 541) scale(0.95 1)" font-size="8"><tspan>CD8</tspan><tspan font-size="5.5" dy="-3.3">+</tspan><tspan dy="3.3"> Tc from vehicle-treated BMT mice (n=10)</tspan></text>
<path d="M476.5 523.1 H478.5 V541.6 H476.5" fill="none" stroke="#333" stroke-width="0.95"/>
<text transform="translate(482 534.8) scale(0.93 1)" font-size="8"><tspan font-style="italic">P</tspan><tspan>=0.0005</tspan></text>
<defs><filter id="bl" x="-10%" y="-10%" width="120%" height="120%"><feGaussianBlur stdDeviation="0.55"/></filter><filter id="bl2" x="-10%" y="-10%" width="120%" height="120%"><feGaussianBlur stdDeviation="0.75"/></filter></defs>
<rect x="459.2" y="43.8" width="47" height="37.7" fill="#dadada"/>
<g filter="url(#bl)">
<path d="M459.4 43.8 L506 43.8 L506 45.4 L459.4 45.4 Z" fill="#d2d2d2"/>
<path d="M461.7 54.05 L473.1 54.05 L473.1 55.15 L461.7 55.15 Z" fill="#b4b4b4"/>
<path d="M477.3 54.15 L487.7 53.75 L487.7 55.05 L477.3 55.45 Z" fill="#8a8a8a"/>
<path d="M491.3 54.05 L502.7 53.65 L502.7 54.95 L491.3 55.35 Z" fill="#858585"/>
<path d="M461.7 72 L474.7 72 L474.7 73.4 L461.7 73.4 Z" fill="#a5a5a5"/>
<path d="M477.8 71.55 L489.2 71.55 L489.2 74.05 L477.8 74.05 Z" fill="#080808"/>
<path d="M492.9 71.8 L504.3 71.8 L504.3 73.8 L492.9 73.8 Z" fill="#464646"/>
</g>
<rect x="459.2" y="86.1" width="47" height="83.1" fill="#d9d9d9"/>
<g filter="url(#bl2)">
<path d="M459.4 86.2 L506 86.2 L506 90.4 L459.4 90.4 Z" fill="#c9c9c9"/>
<path d="M460 91.4 L474.8 91.6 L475.5 92.8 L476.2 91.6 L489.3 91.4 L490 92.6 L490.7 91.4 L505.8 91.2 L505.8 95 L460 95 Z" fill="#1a1a1a"/>
<path d="M460 94.6 L505.8 94.6 L505.8 103.5 L491.2 103.8 L490.1 103 L489 104.7 L477 104.9 L475.8 103.2 L474.6 103.3 L460 103.1 Z" fill="#030303"/>
<path d="M461 93 L474.5 93 L474.5 93.8 L461 93.8 Z" fill="#4a4a4a"/>
<path d="M477 93.2 L489 93.2 L489 94 L477 94 Z" fill="#4a4a4a"/>
<path d="M491 92.9 L505 92.9 L505 93.7 L491 93.7 Z" fill="#4a4a4a"/>
<path d="M461.9 112.6 L471.9 112.6 L471.9 113.8 L461.9 113.8 Z" fill="#cbcbcb"/>
<path d="M461.9 114.8 L471.9 114.8 L471.9 116 L461.9 116 Z" fill="#cecece"/>
<path d="M476.8 112.45 L487.7 112.45 L487.7 113.75 L476.8 113.75 Z" fill="#3c3c3c"/>
<path d="M476.8 114.65 L487.7 114.65 L487.7 115.95 L476.8 115.95 Z" fill="#484848"/>
<path d="M491.8 112.35 L503.2 112.35 L503.2 113.65 L491.8 113.65 Z" fill="#555555"/>
<path d="M491.8 114.55 L503.2 114.55 L503.2 115.85 L491.8 115.85 Z" fill="#5c5c5c"/>
<path d="M477.3 119.3 L488 119.3 L488 120.3 L477.3 120.3 Z" fill="#8a8a8a"/>
<path d="M492 119.15 L503 119.15 L503 120.05 L492 120.05 Z" fill="#b4b4b4"/>
<path d="M461.9 131.95 L472 131.95 L472 132.85 L461.9 132.85 Z" fill="#cecece"/>
<path d="M477.3 131.5 L488.2 131.2 L488.2 132.9 L477.3 133.2 Z" fill="#383838"/>
<path d="M491.8 131.45 L503.8 131.05 L503.8 132.55 L491.8 132.95 Z" fill="#565656"/>
<path d="M477.3 139.15 L488.2 139.15 L488.2 140.05 L477.3 140.05 Z" fill="#c6c6c6"/>
<path d="M461.9 145.1 L472.5 145.1 L472.5 146.1 L461.9 146.1 Z" fill="#bdbdbd"/>
<path d="M477.3 144.35 L488.5 144.05 L488.5 146.25 L477.3 146.55 Z" fill="#2a2a2a"/>
<path d="M492.3 144.3 L504 143.3 L504 144.9 L492.3 145.9 Z" fill="#4e4e4e"/>
<path d="M461 163.45 L473 163.45 L473 164.55 L461 164.55 Z" fill="#a8a8a8"/>
<path d="M477.5 162.75 L489.2 162.25 L489.2 164.45 L477.5 164.95 Z" fill="#262626"/>
<path d="M492.5 162.9 L504.5 162.3 L504.5 163.5 L492.5 164.1 Z" fill="#999999"/>
</g>
<rect x="459" y="174.2" width="47.9" height="18.6" fill="#dddddd"/>
<g filter="url(#bl)">
<rect x="460.8" y="181.6" width="14.5" height="4.3" fill="#050505" rx="2"/>
<rect x="476.5" y="181.8" width="14.8" height="5.1" fill="#050505" rx="2.2"/>
<rect x="491.3" y="181.8" width="15.4" height="4.6" fill="#050505" rx="2"/>
</g>
<rect x="0.5" y="0.5" width="519" height="560" fill="none" stroke="#000" stroke-width="1"/>
</svg></body></html>
